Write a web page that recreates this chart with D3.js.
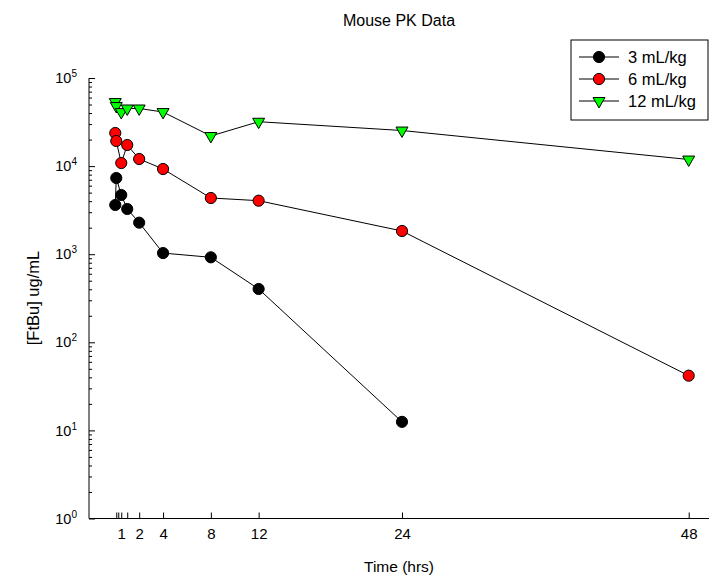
<!DOCTYPE html>
<html>
<head>
<meta charset="utf-8">
<script src="https://cdn.jsdelivr.net/npm/d3@7"></script>
<style>
  body { margin: 0; background: #fff; }
  svg { display: block; font-family: Arial, "Liberation Sans", sans-serif; }
</style>
</head>
<body>
<div id="chart"></div>
<script>
// data
var times = [0, 0.083, 0.5, 1, 2, 4, 8, 12, 24, 48];
var dose3  = [3620, 7330, 4700, 3260, 2280, 1030, 922, 403, 12.5, null];
var dose6  = [23760, 19280, 10840, 17350, 12040, 9270, 4345, 4050, 1834, 41.8];
var dose12 = [53400, 48100, 41100, 45100, 45100, 41100, 21970, 31900, 25350, 11880];

var seriesNames = ["3 mL/kg", "6 mL/kg", "12 mL/kg"];
var xTickValues = [0.083, 0.25, 0.5, 1, 2, 4, 8, 12, 24, 48];
var xTickLabels = ["", "", "1", "", "2", "4", "8", "12", "24", "48"];
var yTickValues = [1, 10, 100, 1000, 10000, 100000];

// dimensions
var svgWidth = 710, svgHeight = 583;
var plot = { left: 89, right: 709, top: 78, bottom: 518.5 };
var fontFam = "Arial, 'Liberation Sans', sans-serif";

var svg = d3.select("#chart").append("svg")
    .attr("width", svgWidth)
    .attr("height", svgHeight);

// scales
var x = d3.scaleLinear().domain([-2.2, 49.7]).range([plot.left, plot.right]);
var y = d3.scaleLog().domain([1, 1e5]).range([plot.bottom, plot.top]);

// X axis, ticks pointing in
var xAxis = d3.axisBottom(x)
    .tickValues(xTickValues)
    .tickSize(-6)
    .tickPadding(10)
    .tickFormat(function(d, i) { return xTickLabels[i]; });

var gx = svg.append("g")
    .attr("transform", "translate(0," + plot.bottom + ")")
    .call(xAxis);
gx.select(".domain").remove();
gx.append("line")
    .attr("x1", plot.left).attr("x2", plot.right)
    .attr("stroke", "black");
gx.selectAll("text").attr("font-size", 15).attr("font-family", fontFam).attr("fill", "black");

// Y axis, minor ticks
var minorTicks = [];
for (var e = 0; e < 5; e++) {
    for (var m = 2; m <= 9; m++) minorTicks.push(m * Math.pow(10, e));
}
var gyMinor = svg.append("g")
    .attr("transform", "translate(" + plot.left + ",0)")
    .call(d3.axisLeft(y).tickValues(minorTicks).tickSize(-3).tickFormat(""));
gyMinor.select(".domain").remove();

// Y axis, major ticks
var gy = svg.append("g")
    .attr("transform", "translate(" + plot.left + ",0)")
    .call(d3.axisLeft(y).tickValues(yTickValues).tickSize(-6).tickSizeOuter(0).tickPadding(12));
gy.select(".domain").remove();
gy.append("line")
    .attr("y1", plot.top).attr("y2", plot.bottom)
    .attr("stroke", "black");
gy.selectAll(".tick text")
    .attr("font-size", 14.5)
    .attr("font-family", fontFam)
    .attr("fill", "black")
    .text(null)
    .each(function(d) {
        var t = d3.select(this);
        t.append("tspan").text("10");
        t.append("tspan").attr("dy", -6).attr("font-size", 10).text(Math.round(Math.log10(d)));
    });

// lines and markers
var allSeries = [dose3, dose6, dose12];
var fills = ["#000000", "#ff0000", "#00ff00"];

var line = d3.line()
    .x(function(d) { return x(d.t); })
    .y(function(d) { return y(d.v); });

allSeries.forEach(function(vals, si) {
    var pts = times.map(function(t, i) { return { t: t, v: vals[i] }; })
        .filter(function(d) { return d.v != null; });

    svg.append("path")
        .datum(pts)
        .attr("d", line)
        .attr("fill", "none")
        .attr("stroke", "black")
        .attr("stroke-width", 1);

    svg.append("g").selectAll("path.mark")
        .data(pts)
        .enter().append("path")
        .attr("class", "mark")
        .attr("transform", function(d) {
            return "translate(" + x(d.t) + "," + y(d.v) + ")" + (si == 2 ? " rotate(180)" : "");
        })
        .attr("d", si == 2 ? d3.symbol(d3.symbolTriangle, 62)() : d3.symbol(d3.symbolCircle, 98)())
        .attr("fill", fills[si])
        .attr("stroke", "black")
        .attr("stroke-width", 1);
});

// title and axis labels
svg.append("text")
    .attr("x", 399).attr("y", 26)
    .attr("text-anchor", "middle")
    .attr("font-size", 16)
    .text("Mouse PK Data");

svg.append("text")
    .attr("x", 399).attr("y", 572)
    .attr("text-anchor", "middle")
    .attr("font-size", 15.5)
    .text("Time (hrs)");

svg.append("text")
    .attr("transform", "translate(39,298) rotate(-90)")
    .attr("text-anchor", "middle")
    .attr("font-size", 16.5)
    .text("[FtBu] ug/mL");

// legend
var legend = svg.append("g");
legend.append("rect")
    .attr("x", 571).attr("y", 40)
    .attr("width", 137).attr("height", 80)
    .attr("fill", "white")
    .attr("stroke", "black");

seriesNames.forEach(function(name, i) {
    var ly = 57 + i * 22;
    legend.append("line")
        .attr("x1", 579).attr("x2", 619)
        .attr("y1", ly).attr("y2", ly)
        .attr("stroke", "black");
    legend.append("path")
        .attr("transform", "translate(599," + ly + ")" + (i == 2 ? " rotate(180)" : ""))
        .attr("d", i == 2 ? d3.symbol(d3.symbolTriangle, 62)() : d3.symbol(d3.symbolCircle, 98)())
        .attr("fill", fills[i])
        .attr("stroke", "black");
    legend.append("text")
        .attr("x", 628).attr("y", ly + 5.5)
        .attr("font-size", 16.5)
        .text(name);
});
</script>
</body>
</html>
